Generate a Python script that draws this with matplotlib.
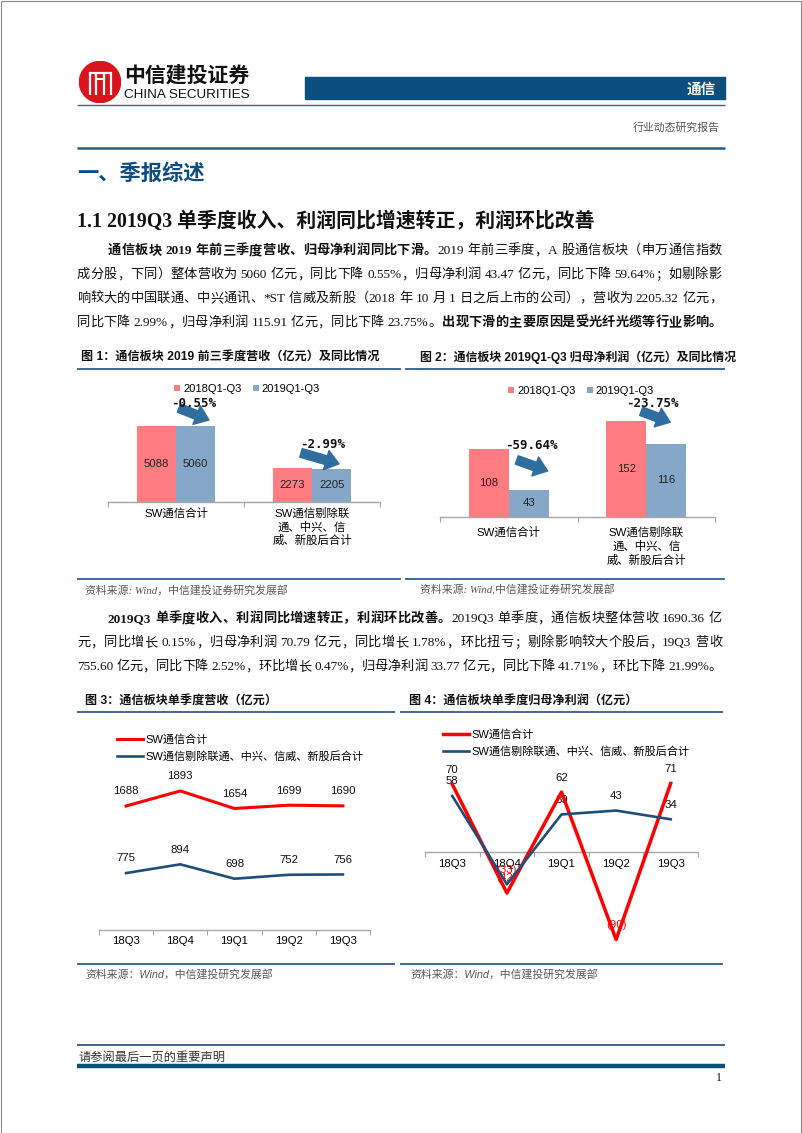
import re
import numpy as np
import matplotlib
matplotlib.use('Agg')
import matplotlib.pyplot as plt
from matplotlib.patches import Rectangle, Circle
from matplotlib.lines import Line2D
from matplotlib.transforms import offset_copy

W, H = 802, 1133
SANS = ['Liberation Sans', 'Noto Sans CJK SC']
SERIF = ['Liberation Serif', 'Noto Sans CJK SC']
CJK = ['Noto Sans CJK SC', 'DejaVu Sans']

# ---- data ----
bar_cats = ['SW通信合计', 'SW通信剔除联\n通、中兴、信\n威、新股后合计']
bar_series = ['2018Q1-Q3', '2019Q1-Q3']
rev_2018 = [5088, 2273]
rev_2019 = [5060, 2205]
rev_yoy = ['-0.55%', '-2.99%']
np_2018 = [108, 152]
np_2019 = [43, 116]
np_yoy = ['-59.64%', '-23.75%']

quarters = ['18Q3', '18Q4', '19Q1', '19Q2', '19Q3']
line_series = ['SW通信合计', 'SW通信剔除联通、中兴、信威、新股后合计']
q_rev_all = [1688, 1893, 1654, 1699, 1690]
q_rev_ex = [775, 894, 698, 752, 756]
q_np_all = [70, -42, 62, -90, 71]
q_np_ex = [58, -33, 39, 43, 34]

para1 = [
    [('通信板块 2019 年前三季度营收、归母净利润同比下滑。', True),
     ('2019 年前三季度，A 股通信板块（申万通信指数', False)],
    [('成分股，下同）整体营收为 5060 亿元，同比下降 0.55%，归母净利润 43.47 亿元，同比下降 59.64%；如剔除影', False)],
    [('响较大的中国联通、中兴通讯、*ST 信威及新股（2018 年 10 月 1 日之后上市的公司），营收为 2205.32 亿元，', False)],
    [('同比下降 2.99%，归母净利润 115.91 亿元，同比下降 23.75%。', False),
     ('出现下滑的主要原因是受光纤光缆等行业影响。', True)],
]
para2 = [
    [('2019Q3 单季度收入、利润同比增速转正，利润环比改善。', True),
     ('2019Q3 单季度，通信板块整体营收 1690.36 亿', False)],
    [('元，同比增长 0.15%，归母净利润 70.79 亿元，同比增长 1.78%，环比扭亏；剔除影响较大个股后，19Q3 营收', False)],
    [('755.60 亿元，同比下降 2.52%，环比增长 0.47%，归母净利润 33.77 亿元，同比下降 41.71%，环比下降 21.99%。', False)],
]

# colours
NAVY = '#0B4F7F'
RULE = '#1F5A92'
AXIS_GRAY = '#A6A6A6'
RED_BAR = '#FF7C80'
BLUE_BAR = '#86A8C8'
ARROW = '#2F6E9F'
LINE_RED = '#FF0000'
LINE_BLUE = '#1F4E79'

fig = plt.figure(figsize=(W / 100, H / 100), dpi=100)
fig.patch.set_facecolor('white')
renderer = fig.canvas.get_renderer()


def fx(x):
    return x / W


def fy(y):
    return 1 - y / H


def hline(y, x0, x1, lw, color):
    fig.add_artist(Line2D([fx(x0), fx(x1)], [fy(y), fy(y)], lw=lw, color=color,
                          solid_capstyle='butt'))


def txt(x, y, s, **kw):
    return fig.text(fx(x), fy(y), s, **kw)


def add_ax(x0, x1, y0, y1):
    return fig.add_axes([fx(x0), fy(y1), (x1 - x0) / W, (y1 - y0) / H])


TOKEN = re.compile(r'[A-Za-z0-9.%*]+| |.')


def para_line(y, x0, x1, runs, size=9.5, justify=True):
    # place tokens one by one so the line can be justified like the report
    items = []
    space_w = 0.25 * size * 100 / 72
    for s, bold in runs:
        for tok in TOKEN.findall(s):
            if tok == ' ':
                items.append((None, space_w))
                continue
            t = txt(0, y, tok, fontsize=size, family=SERIF, va='baseline', ha='left',
                    fontweight='bold' if bold else 'normal', color='#111111')
            items.append((t, t.get_window_extent(renderer).width))
    total = sum(w for _, w in items)
    gap = (x1 - x0 - total) / (len(items) - 1) if justify else 0
    x = x0
    for t, w in items:
        if t is not None:
            t.set_x(fx(x))
        x += w + gap


def cat_axis(ax, labels, pad, size, zero_axis=False):
    n = len(labels)
    if zero_axis:
        ax.spines['bottom'].set_position(('data', 0))
    for s in ('left', 'right', 'top'):
        ax.spines[s].set_visible(False)
    ax.spines['bottom'].set_color(AXIS_GRAY)
    ax.spines['bottom'].set_linewidth(1.0)
    ax.set_yticks([])
    ax.set_xticks(np.arange(-0.5, n, 1.0))
    ax.set_xticklabels([])
    ax.tick_params(axis='x', which='major', length=3.5, width=0.8, color=AXIS_GRAY,
                   direction='out')
    ax.set_xticks(np.arange(n), minor=True)
    ax.set_xticklabels(labels, minor=True, fontsize=size, family=SANS, linespacing=1.3)
    ax.tick_params(axis='x', which='minor', length=0, pad=pad)
    ax.patch.set_alpha(0)


def bar_chart(ax, v18, v19, yoy, ymax, pad, legend_xy, marks):
    xs = np.arange(len(bar_cats))
    w = 0.29
    b1 = ax.bar(xs - w / 2, v18, w, color=RED_BAR, label=bar_series[0])
    b2 = ax.bar(xs + w / 2, v19, w, color=BLUE_BAR, label=bar_series[1])
    for rects, vals in ((b1, v18), (b2, v19)):
        for r, v in zip(rects, vals):
            ax.text(r.get_x() + r.get_width() / 2, v / 2, f'{v}', ha='center',
                    va='center', fontsize=8.2, family=SANS, color='#222222')
    ax.set_xlim(-0.5, len(xs) - 0.5)
    ax.set_ylim(0, ymax)
    cat_axis(ax, bar_cats, pad, 8.2)
    ax.legend(loc='center', bbox_to_anchor=(fx(legend_xy[0]), fy(legend_xy[1])),
              bbox_transform=fig.transFigure, ncol=2, frameon=False,
              prop=dict(family=SANS, size=8), handlelength=0.55, handleheight=0.55,
              handletextpad=0.25, columnspacing=1.0, borderpad=0)
    # yoy change: bold label plus a fat arrow, offsets in pixels from the group top
    for i, (lab, (tx, ty, ax0, ay0, hx, hy)) in enumerate(zip(yoy, marks)):
        top = max(v18[i], v19[i])
        ax.annotate('', xy=(i, top),
                    xycoords=offset_copy(ax.transData, fig=fig, x=hx, y=hy, units='dots'),
                    xytext=(i, top),
                    textcoords=offset_copy(ax.transData, fig=fig, x=ax0, y=ay0, units='dots'),
                    arrowprops=dict(arrowstyle='simple,head_length=0.6,head_width=0.9,tail_width=0.4',
                                    color=ARROW, mutation_scale=16, shrinkA=0, shrinkB=0),
                    annotation_clip=False)
        ax.text(i, top, lab, ha='center', va='center', fontsize=9, fontweight='bold',
                family='DejaVu Sans Mono', color='#111111',
                transform=offset_copy(ax.transData, fig=fig, x=tx, y=ty, units='dots'))


def line_chart(ax, s1, s2, ylim, pad, legend_xy, lws, zero_axis=False):
    xs = np.arange(len(quarters))
    ax.plot(xs, s1, color=LINE_RED, lw=lws[0], label=line_series[0], zorder=3)
    ax.plot(xs, s2, color=LINE_BLUE, lw=lws[1], label=line_series[1], zorder=3)
    for vals in (s1, s2):
        for x, v in zip(xs, vals):
            lab = f'({-v})' if v < 0 else f'{v}'
            ax.annotate(lab, (x, v), xytext=(0, 10.5), textcoords='offset points',
                        ha='center', va='center', fontsize=8.2, family=SANS,
                        color=LINE_RED if v < 0 else '#111111', zorder=2,
                        annotation_clip=False)
    ax.set_xlim(-0.5, len(xs) - 0.5)
    ax.set_ylim(*ylim)
    cat_axis(ax, quarters, pad, 8.2, zero_axis)
    ax.legend(loc='center left', bbox_to_anchor=(fx(legend_xy[0]), fy(legend_xy[1])),
              bbox_transform=fig.transFigure, frameon=False,
              prop=dict(family=SANS, size=8), handlelength=2.35, handletextpad=0.2,
              labelspacing=0.62, borderpad=0, borderaxespad=0)


# ---- page frame and header ----
fig.add_artist(Rectangle((0.5 / W, 0.5 / H), 1 - 1.5 / W, 1 - 1.5 / H, fill=False,
                         ec='#8a8a8a', lw=0.8, transform=fig.transFigure))

logo = add_ax(79, 121, 61, 103)
logo.set_xlim(-1, 1)
logo.set_ylim(-1, 1)
logo.set_aspect('equal')
logo.axis('off')
logo.add_patch(Circle((0, 0), 0.98, color='#D9141C'))
for xv in (-0.5, -0.17, 0.17, 0.5):
    logo.plot([xv, xv], [-0.6, 0.45], color='white', lw=1.6, solid_capstyle='butt')
logo.plot([-0.5, 0.5], [0.45, 0.45], color='white', lw=1.6)
logo.plot([-0.17, 0.17], [0.15, 0.15], color='white', lw=1.4)

txt(124, 75, '中信建投证券', fontsize=15, fontweight='bold', family=CJK, va='center',
    ha='left', color='#111111')
txt(124, 95, 'CHINA SECURITIES', fontsize=9.7, family='Liberation Sans', va='center',
    ha='left', color='#111111')

fig.add_artist(Rectangle((fx(305), fy(99)), (725 - 305) / W, 22 / H, color=NAVY,
                         transform=fig.transFigure))
txt(716, 88.5, '通信', fontsize=10.5, fontweight='bold', family=CJK, color='white',
    ha='right', va='center')
hline(104.5, 77, 725, 1.0, '#2D6AA3')
txt(720, 127, '行业动态研究报告', fontsize=7.8, family=CJK, color='#555555', ha='right',
    va='center')
hline(148, 77, 725, 1.8, RULE)
txt(77, 173, '一、季报综述', fontsize=15.3, fontweight='bold', family=CJK,
    color='#0E4D81', va='center', ha='left')

txt(77, 227, '1.1 2019Q3 单季度收入、利润同比增速转正，利润环比改善', fontsize=14.3,
    fontweight='bold', family=SERIF, va='baseline', ha='left', color='#111111')

for k, runs in enumerate(para1):
    para_line(254 + 24 * k, 108 if k == 0 else 77, 722, runs)

# ---- figure 1 & 2 ----
txt(81, 357, '图 1：通信板块 2019 前三季度营收（亿元）及同比情况', fontsize=8.7,
    fontweight='bold', family=SANS, va='center', ha='left', color='#111111')
txt(420, 357, '图 2：通信板块 2019Q1-Q3 归母净利润（亿元）及同比情况', fontsize=8.6,
    fontweight='bold', family=SANS, va='center', ha='left', color='#111111')
hline(368.5, 77, 401, 1.3, '#2F5F8F')
hline(368.5, 405, 725, 1.3, '#2F5F8F')

ax1 = add_ax(108, 380, 376, 501.7)
bar_chart(ax1, rev_2018, rev_2019, rev_yoy, 8450, 4.0, (247, 389),
          [(18, 23, 3, 18, 33, 6), (11, 23, -11, 15, 27, 4)])
ax2 = add_ax(440, 715, 391, 517)
bar_chart(ax2, np_2018, np_2019, np_yoy, 200, 7.0, (581, 391),
          [(23, 3, 8, -11, 39, -22), (6, 18, -5, 10, 24, -1)])

hline(578.5, 77, 401, 1.3, '#2F5F8F')
hline(578.5, 405, 725, 1.3, '#2F5F8F')
txt(85, 590, '资料来源: Wind，中信建投证券研究发展部', fontsize=7.8, style='italic',
    family=SERIF, color='#595959', va='center', ha='left')
txt(420, 590, '资料来源: Wind,中信建投证券研究发展部', fontsize=7.8, style='italic',
    family=SERIF, color='#595959', va='center', ha='left')

for k, runs in enumerate(para2):
    para_line(622 + 24 * k, 108 if k == 0 else 77, 722, runs)

# ---- figure 3 & 4 ----
txt(85, 701, '图 3：通信板块单季度营收（亿元）', fontsize=8.7, fontweight='bold',
    family=SANS, va='center', ha='left', color='#111111')
txt(409, 701, '图 4：通信板块单季度归母净利润（亿元）', fontsize=8.7, fontweight='bold',
    family=SANS, va='center', ha='left', color='#111111')
hline(712, 77, 395, 1.3, '#2F5F8F')
hline(712, 400, 723, 1.3, '#2F5F8F')

ax3 = add_ax(99, 370, 739, 930)
line_chart(ax3, q_rev_all, q_rev_ex, (0, 2600), 4.0, (117, 748), (2.2, 1.9))
ax4 = add_ax(425, 698, 731, 959)
line_chart(ax4, q_np_all, q_np_ex, (-110, 125), 4.5, (443, 743), (2.5, 1.9),
           zero_axis=True)

hline(964, 77, 395, 1.3, '#2F5F8F')
hline(964, 400, 723, 1.3, '#2F5F8F')
txt(85, 974, '资料来源：Wind，中信建投研究发展部', fontsize=7.8, style='italic',
    family=SANS, color='#595959', va='center', ha='left')
txt(410, 974, '资料来源：Wind，中信建投研究发展部', fontsize=7.8, style='italic',
    family=SANS, color='#595959', va='center', ha='left')

# ---- footer ----
hline(1045, 77, 725, 1.2, '#1F4E79')
txt(78, 1057, '请参阅最后一页的重要声明', fontsize=8.8, family=CJK, color='#333333',
    va='center', ha='left')
hline(1066, 77, 725, 3.2, NAVY)
txt(722, 1078, '1', fontsize=8.5, family=SERIF, color='#111111', va='center', ha='right')

fig.savefig('out.png', dpi=100, facecolor='white')
